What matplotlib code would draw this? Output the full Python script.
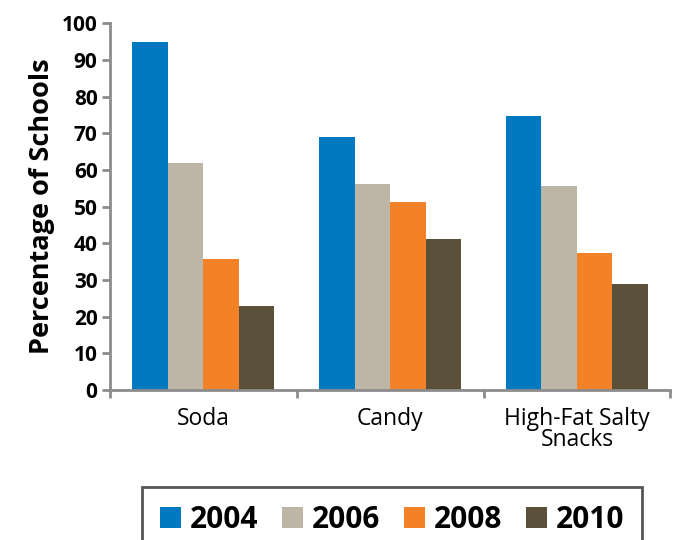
import matplotlib.pyplot as plt
import numpy as np
from matplotlib.patches import Patch

plt.rcParams['font.family'] = ['Open Sans', 'DejaVu Sans']

categories = ["Soda", "Candy", "High-Fat Salty\nSnacks"]
years = ["2004", "2006", "2008", "2010"]
values = {
    "2004": [95, 69, 74.7],
    "2006": [61.8, 56.1, 55.6],
    "2008": [35.7, 51.2, 37.3],
    "2010": [23, 41.1, 28.9],
}
colors = ["#0079C1", "#BDB6A6", "#F28127", "#5B503A"]

fig = plt.figure(figsize=(6.75, 5.4), dpi=100)
ax = fig.add_axes([0.163, 0.278, 0.83, 0.679])

x = np.arange(len(categories))
w = 0.19
for i, yr in enumerate(years):
    ax.bar(x + (i - 1.5) * w, values[yr], width=w, color=colors[i])

ax.set_xlim(-0.5, 2.5)
ax.set_ylim(0, 100)
ax.set_yticks(range(0, 101, 10))
ax.set_xticks(x)
ax.set_xticklabels(categories, fontsize=16.5, linespacing=0.85)
ax.set_xticks([-0.5, 0.5, 1.5, 2.5], minor=True)
ax.tick_params(axis='x', which='major', length=0, pad=12)
ax.tick_params(axis='x', which='minor', length=6, width=2, color='#8c8c8c')
ax.tick_params(axis='y', length=6, width=2, color='#8c8c8c', labelsize=15, pad=3)
for lab in ax.get_yticklabels():
    lab.set_fontweight('bold')

for s in ['top', 'right']:
    ax.spines[s].set_visible(False)
for s in ['left', 'bottom']:
    ax.spines[s].set_color('#8c8c8c')
    ax.spines[s].set_linewidth(2)

ax.set_ylabel("Percentage of Schools", fontsize=19.5, fontweight='bold', labelpad=5)

handles = [Patch(facecolor=c) for c in colors]
leg = fig.legend(handles, years, loc='upper left', bbox_to_anchor=(0.21, 0.098),
                 borderaxespad=0, ncol=4, frameon=True, fancybox=False,
                 handlelength=0.7, handleheight=0.7,
                 handletextpad=0.3, columnspacing=0.8, borderpad=0.6,
                 prop={'size': 21.5, 'weight': 'bold'})
leg.get_frame().set_edgecolor('#2b2b2b')
leg.get_frame().set_linewidth(2)

fig.savefig("out.png", dpi=100)
